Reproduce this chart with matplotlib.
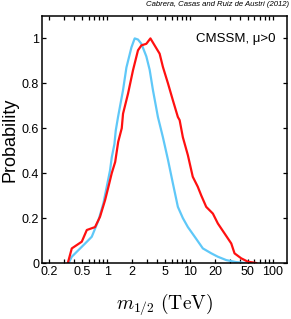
import matplotlib
matplotlib.use("Agg")
import matplotlib.pyplot as plt
from matplotlib.ticker import FixedLocator, NullFormatter

# m_1/2 posterior (x in TeV)
red_x = [0.335, 0.374, 0.494, 0.568, 0.714, 0.820, 0.944, 1.037, 1.136, 1.25,
         1.36, 1.50, 1.555, 1.786, 2.05, 2.356, 2.59, 2.97, 3.33, 3.74,
         4.30, 4.71, 5.42, 6.22, 7.14, 7.5, 8.20, 9.43, 10.8, 12.4,
         13.7, 15.7, 18.9, 21.7, 26.1, 31.5, 34.5, 41.5, 49.9, 63.0]
red_y = [0.0, 0.065, 0.095, 0.147, 0.16, 0.206, 0.28, 0.34, 0.40, 0.45,
         0.54, 0.60, 0.665, 0.754, 0.858, 0.947, 0.969, 0.976, 1.0, 0.969,
         0.932, 0.873, 0.80, 0.724, 0.65, 0.636, 0.56, 0.48, 0.384, 0.34,
         0.30, 0.25, 0.22, 0.176, 0.132, 0.087, 0.043, 0.021, 0.006, 0.0]

blue_x = [0.342, 0.374, 0.542, 0.652, 0.785, 0.902, 0.989, 1.084, 1.136, 1.224,
          1.27, 1.353, 1.555, 1.707, 1.963, 2.15, 2.356, 2.59, 2.97, 3.26,
          3.57, 4.10, 4.71, 5.42, 6.22, 7.14, 8.20, 9.43, 11.4, 14.3,
          18.1, 21.7, 27.4, 36.1, 47.6]
blue_y = [0.0, 0.028, 0.087, 0.117, 0.19, 0.267, 0.34, 0.413, 0.47, 0.53,
          0.59, 0.65, 0.77, 0.87, 0.96, 1.0, 0.995, 0.976, 0.92, 0.86,
          0.77, 0.65, 0.56, 0.46, 0.354, 0.25, 0.20, 0.16, 0.117, 0.065,
          0.043, 0.028, 0.013, 0.004, 0.0]

xticks = [0.2, 0.5, 1, 2, 5, 10, 20, 50, 100]
xticklabels = ["0.2", "0.5", "1", "2", "5", "10", "20", "50", "100"]
xminor = [0.3, 0.4, 0.6, 0.7, 0.8, 0.9, 3, 4, 6, 7, 8, 9,
          30, 40, 60, 70, 80, 90]
yticks = [0, 0.2, 0.4, 0.6, 0.8, 1]
yticklabels = ["0", "0.2", "0.4", "0.6", "0.8", "1"]

plt.rcParams['font.family'] = ['Liberation Sans', 'DejaVu Sans']
plt.rcParams['mathtext.fontset'] = 'cm'

fig = plt.figure(figsize=(2.91, 3.19), dpi=100)
ax = fig.add_axes([0.144, 0.1755, 0.842, 0.7745])

ax.plot(blue_x, blue_y, color='#5fc8f8', lw=1.6)
ax.plot(red_x, red_y, color='#ff1010', lw=1.6)

ax.set_xscale('log')
ax.set_xlim(0.163, 148)
ax.set_ylim(0, 1.1)

ax.xaxis.set_major_locator(FixedLocator(xticks))
ax.xaxis.set_minor_locator(FixedLocator(xminor))
ax.xaxis.set_minor_formatter(NullFormatter())
ax.set_xticklabels(xticklabels)
ax.set_yticks(yticks)
ax.set_yticklabels(yticklabels)

ax.tick_params(which='both', direction='in', top=True, right=True,
               labelsize=9, width=0.9, pad=2)
ax.tick_params(which='major', length=3)
ax.tick_params(which='minor', length=2.6)
for s in ax.spines.values():
    s.set_linewidth(1.1)

ax.set_ylabel("Probability", fontsize=13, labelpad=2)
ax.set_xlabel(r"$m_{1/2}\ \mathrm{(TeV)}$", fontsize=14, labelpad=10)

ax.text(0.955, 0.905, u"CMSSM, \u03bc>0", transform=ax.transAxes,
        ha='right', va='center', fontsize=9.5)
fig.text(0.993, 0.986, "Cabrera, Casas and Ruiz de Austri (2012)",
         ha='right', va='center', fontsize=5.6, style='italic')

fig.savefig("out.png", dpi=100)
